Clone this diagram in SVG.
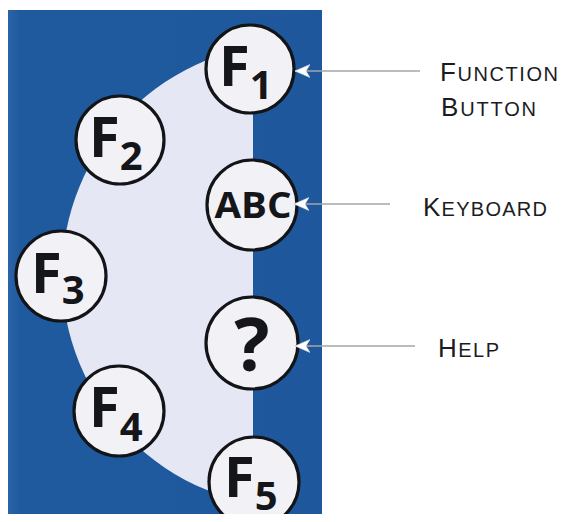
<svg xmlns="http://www.w3.org/2000/svg" width="564" height="522" viewBox="0 0 564 522">
  <style>
    .btn circle { fill: #f1f1f6; stroke: #121418; stroke-width: 3.2; }
    .glyph { font-family: "Open Sans", "Noto Sans", "DejaVu Sans", sans-serif; font-weight: 700; fill: #14161a; }
    .f { font-size: 56px; }
    .sub { font-size: 40px; }
    .lbl { font-family: "Liberation Sans", Arial, sans-serif; fill: #1b1c1f; }
    .big { font-size: 26px; }
    .small { font-size: 20px; }
    .conn line { stroke: #a3a6ab; stroke-width: 1.6; }
  </style>
  <defs>
    <clipPath id="panelClip"><rect x="8" y="10" width="314" height="504"/></clipPath>
    <clipPath id="discClip"><rect x="8" y="10" width="245" height="504"/></clipPath>
    <linearGradient id="panelGrad" x1="0" y1="0" x2="1" y2="0">
      <stop offset="0" stop-color="#2a63a8"/>
      <stop offset="0.04" stop-color="#1f5a9f"/>
      <stop offset="1" stop-color="#1e579c"/>
    </linearGradient>
    <marker id="arrow" markerUnits="userSpaceOnUse" markerWidth="16" markerHeight="14" refX="15" refY="7" orient="auto">
      <path d="M0,0.5 L15,7 L0,13.5 L4,7 Z" fill="#ffffff" stroke="#d8dbe2" stroke-width="0.6"/>
    </marker>
  </defs>

  <rect width="564" height="522" fill="#ffffff"/>

  <g id="panel" clip-path="url(#panelClip)">
    <rect x="8" y="10" width="314" height="504" fill="url(#panelGrad)"/>
    <circle cx="294" cy="275" r="232" fill="#e5e8f4" clip-path="url(#discClip)"/>

    <g id="btn-f1" class="btn">
      <circle cx="250" cy="69" r="44"/>
      <text class="glyph" x="219" y="86"><tspan class="f">F</tspan><tspan class="sub" dy="13">1</tspan></text>
    </g>
    <g id="btn-f2" class="btn">
      <circle cx="120" cy="140" r="44"/>
      <text class="glyph" x="89" y="157"><tspan class="f">F</tspan><tspan class="sub" dy="13">2</tspan></text>
    </g>
    <g id="btn-abc" class="btn">
      <circle cx="252" cy="205" r="45"/>
      <text class="glyph" x="253" y="218" font-size="36" text-anchor="middle" textLength="77" lengthAdjust="spacingAndGlyphs">ABC</text>
    </g>
    <g id="btn-f3" class="btn">
      <circle cx="61" cy="276" r="45"/>
      <text class="glyph" x="31" y="293"><tspan class="f">F</tspan><tspan class="sub" dy="11">3</tspan></text>
    </g>
    <g id="btn-help" class="btn">
      <circle cx="252" cy="343" r="46"/>
      <text class="glyph" x="252" y="371" font-size="74" text-anchor="middle">?</text>
    </g>
    <g id="btn-f4" class="btn">
      <circle cx="119" cy="411" r="45"/>
      <text class="glyph" x="89" y="427"><tspan class="f">F</tspan><tspan class="sub" dy="14">4</tspan></text>
    </g>
    <g id="btn-f5" class="btn">
      <circle cx="254" cy="482" r="45"/>
      <text class="glyph" x="224" y="497"><tspan class="f">F</tspan><tspan class="sub" dy="13">5</tspan></text>
    </g>
  </g>

  <g id="connectors" class="conn">
    <line x1="420" y1="71" x2="295" y2="71" marker-end="url(#arrow)"/>
    <line x1="390" y1="204" x2="294" y2="204" marker-end="url(#arrow)"/>
    <line x1="415" y1="346" x2="295" y2="346" marker-end="url(#arrow)"/>
  </g>

  <g id="label-function" class="lbl">
    <text x="440" y="81" textLength="118" lengthAdjust="spacing"><tspan class="big">F</tspan><tspan class="small">UNCTION</tspan></text>
    <text x="441" y="116" textLength="95" lengthAdjust="spacing"><tspan class="big">B</tspan><tspan class="small">UTTON</tspan></text>
  </g>
  <g id="label-keyboard" class="lbl">
    <text x="423" y="216" textLength="124" lengthAdjust="spacing"><tspan class="big">K</tspan><tspan class="small">EYBOARD</tspan></text>
  </g>
  <g id="label-help" class="lbl">
    <text x="438" y="357" textLength="61" lengthAdjust="spacing"><tspan class="big">H</tspan><tspan class="small">ELP</tspan></text>
  </g>
</svg>
